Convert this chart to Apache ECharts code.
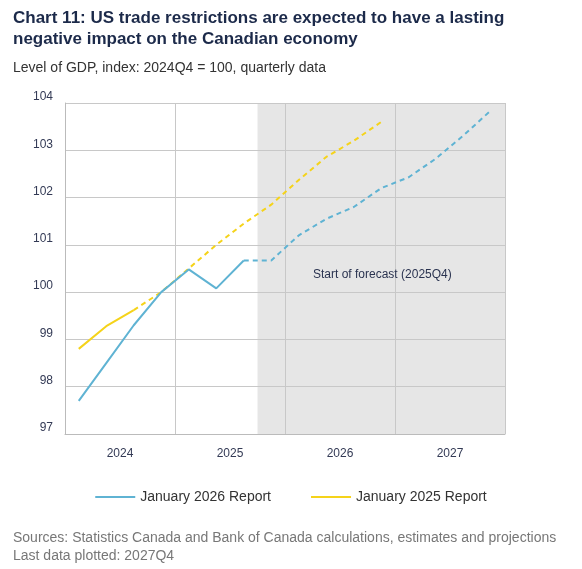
<!DOCTYPE html>
<html><head><meta charset="utf-8">
<script src="https://cdn.jsdelivr.net/npm/echarts@6/dist/echarts.min.js"></script>
<style>html,body{margin:0;padding:0;background:#fff}#c{width:582px;height:569px}</style>
</head><body><div id="c"></div>
<script>
const quarters = ['2024Q1','2024Q2','2024Q3','2024Q4','2025Q1','2025Q2','2025Q3','2025Q4','2026Q1','2026Q2','2026Q3','2026Q4','2027Q1','2027Q2','2027Q3','2027Q4'];
const years = ['2024','2025','2026','2027'];
const jan2026 = [97.7,98.5,99.3,100.0,100.48,100.08,100.67,100.67,101.2,101.55,101.8,102.2,102.43,102.83,103.32,103.85];
const jan2026LastActual = 6;
const jan2025 = [98.8,99.28,99.62,100.0,100.5,101.0,101.45,101.85,102.37,102.86,103.2,103.6];
const jan2025LastActual = 2;
const forecastStart = 7;

const F = 'Liberation Sans, Arial, sans-serif';
function pts(arr, from, to){return arr.map((v,i)=>[i+0.5,(i>=from&&i<=to)?v:null]);}
const blue='#5fb3d3', yellow='#f5d31a';
const chart = echarts.init(document.getElementById('c'));
chart.setOption({
  animation:false,
  title:[
    {text:'Chart 11: US trade restrictions are expected to have a lasting\nnegative impact on the Canadian economy',left:8,top:3,textStyle:{fontFamily:F,fontSize:17,fontWeight:'bold',color:'#1c2a4a',lineHeight:21}},
    {text:'Level of GDP, index: 2024Q4 = 100, quarterly data',left:8,top:56,textStyle:{fontFamily:F,fontSize:14,fontWeight:'normal',color:'#333'}},
    {text:'Sources: Statistics Canada and Bank of Canada calculations, estimates and projections\nLast data plotted: 2027Q4',left:8,top:524,textStyle:{fontFamily:F,fontSize:14,fontWeight:'normal',color:'#777',lineHeight:18}}
  ],
  legend:{bottom:60,left:'center',itemGap:40,itemWidth:40,itemHeight:2,icon:'rect',
    textStyle:{fontFamily:F,fontSize:14,color:'#333'},
    data:[{name:'January 2026 Report',itemStyle:{color:blue}},{name:'January 2025 Report',itemStyle:{color:yellow}}]},
  grid:{left:65,right:77,top:103,bottom:135},
  xAxis:[
    {type:'value',min:0,max:quarters.length,show:false},
    {type:'category',data:years,position:'bottom',boundaryGap:true,
      axisLine:{lineStyle:{color:'#bbb'}},axisTick:{show:false},
      axisLabel:{fontFamily:F,fontSize:12,color:'#333a55',margin:14},
      splitLine:{show:true,interval:0,lineStyle:{color:'#c8c8c8'}}}
  ],
  yAxis:{type:'value',min:97,max:104,interval:1,
    axisLine:{show:true,lineStyle:{color:'#bbb'}},axisTick:{show:false},
    axisLabel:{fontFamily:F,fontSize:12,color:'#333a55',margin:12,verticalAlign:'bottom'},
    splitLine:{lineStyle:{color:'#c8c8c8'}}},
  series:[
    {name:'January 2026 Report',type:'line',xAxisIndex:0,symbol:'none',lineStyle:{color:blue,width:2},itemStyle:{color:blue},
      data:pts(jan2026,0,jan2026LastActual),
      markArea:{silent:true,itemStyle:{color:'rgba(200,200,200,0.45)'},
        label:{show:false},
        data:[[{xAxis:forecastStart},{xAxis:quarters.length}]]},z:3},
    {name:'January 2026 Report',type:'line',xAxisIndex:0,symbol:'none',lineStyle:{color:blue,width:2,type:[5,4]},itemStyle:{color:blue},
      data:pts(jan2026,jan2026LastActual,99),z:3},
    {name:'January 2025 Report',type:'line',xAxisIndex:0,symbol:'none',lineStyle:{color:yellow,width:2},itemStyle:{color:yellow},
      data:pts(jan2025,0,jan2025LastActual),z:2},
    {name:'January 2025 Report',type:'line',xAxisIndex:0,symbol:'none',lineStyle:{color:yellow,width:2,type:[5,4]},itemStyle:{color:yellow},
      data:pts(jan2025,jan2025LastActual,99),z:2}
  ],
  graphic:[{type:'text',left:313,top:269,z:100,style:{text:'Start of forecast (2025Q4)',font:'12px '+F,fill:'#2a3350'}}]
});
</script></body></html>
